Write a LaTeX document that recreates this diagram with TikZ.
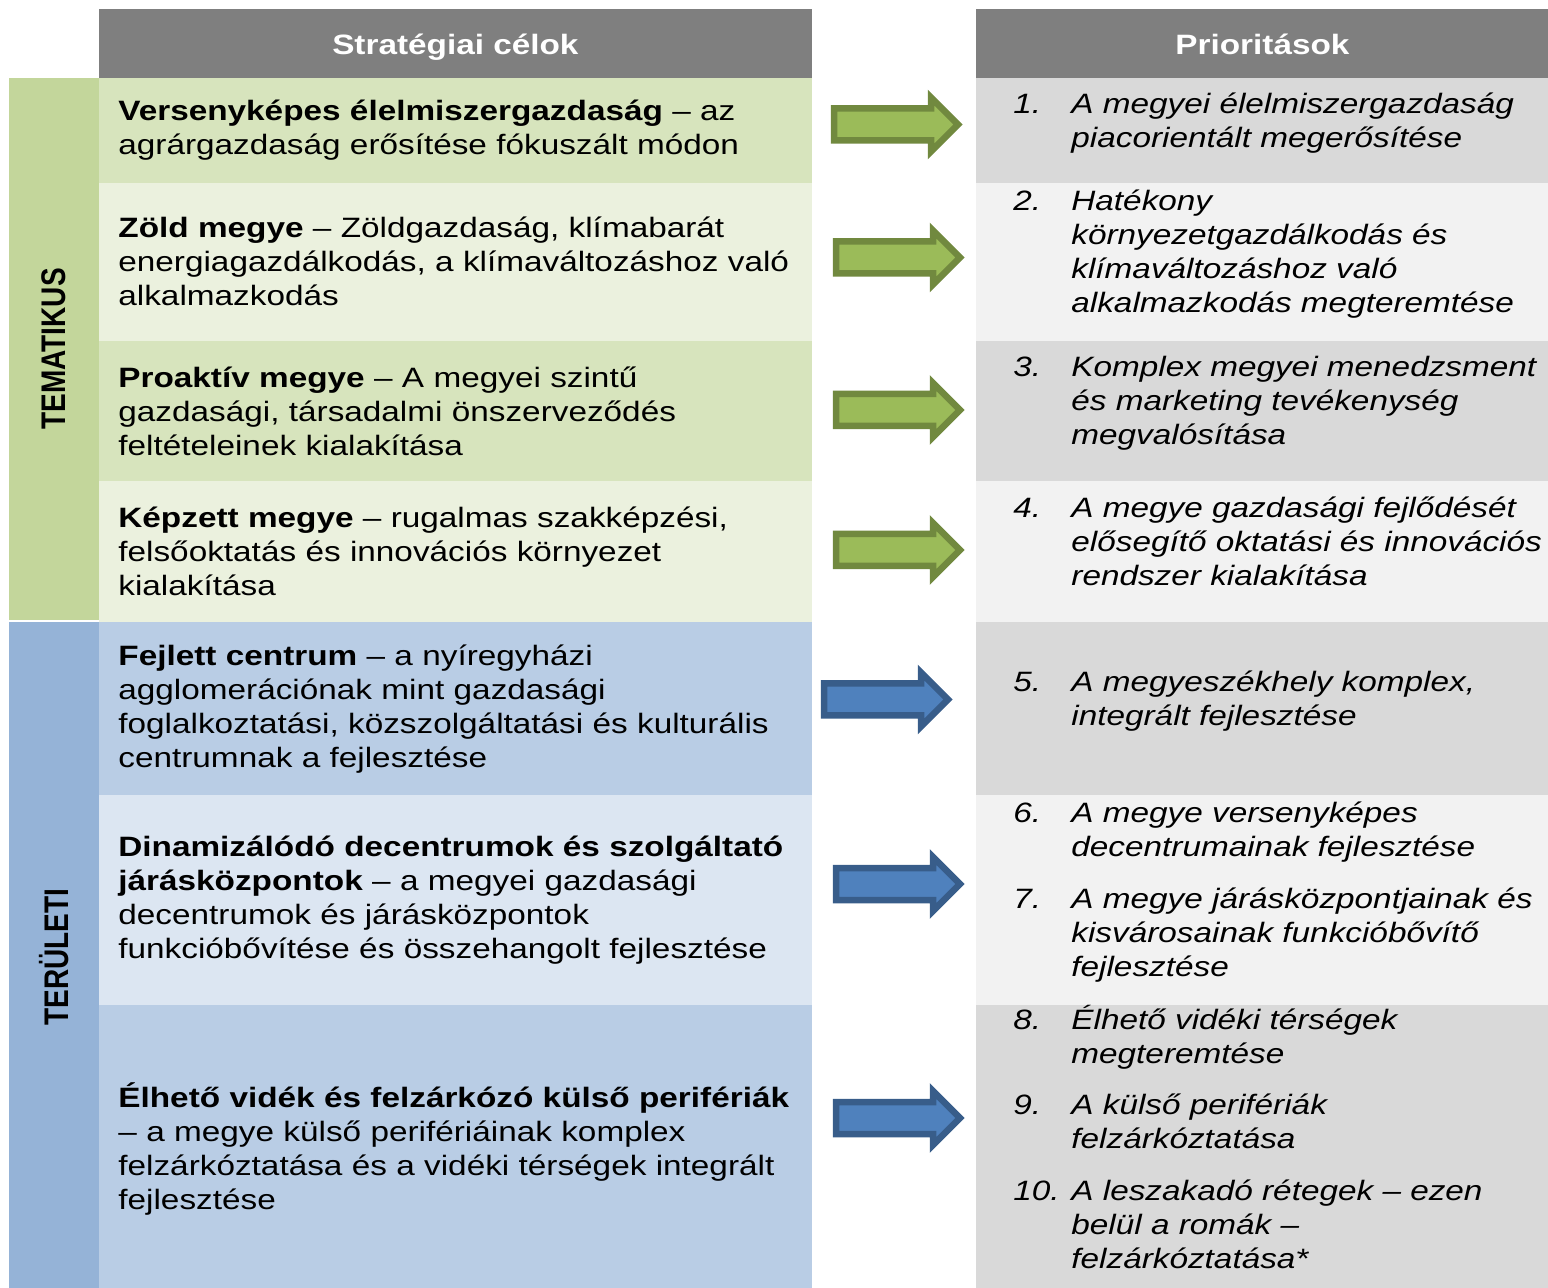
\documentclass[tikz,border=0pt]{standalone}
\usepackage{fontspec}
\setmainfont[FakeStretch=1.19]{Liberation Sans}
\newfontfamily\narrowsans{Liberation Sans}
\usepackage{graphicx}
\usetikzlibrary{positioning,shapes.arrows,calc}

\definecolor{headgray}{HTML}{7F7F7F}
\definecolor{tembar}{HTML}{C3D69B}
\definecolor{gdark}{HTML}{D7E4BD}
\definecolor{glight}{HTML}{EBF1DE}
\definecolor{terbar}{HTML}{95B3D7}
\definecolor{bdark}{HTML}{B9CDE5}
\definecolor{blight}{HTML}{DCE6F2}
\definecolor{pdark}{HTML}{D9D9D9}
\definecolor{plight}{HTML}{F2F2F2}
\definecolor{arrgreen}{HTML}{9BBB59}
\definecolor{arrgreenline}{HTML}{71893F}
\definecolor{arrblue}{HTML}{4F81BD}
\definecolor{arrblueline}{HTML}{385D8A}

\begin{document}
\begin{tikzpicture}[x=0.5pt, y=-0.5pt, node distance=0pt,
  every node/.style={font=\fontsize{14}{17}\selectfont}]
\tikzstyle{cell}=[fill=#1, draw=#1, line width=0.4pt]
\tikzstyle{head}=[cell=headgray, text=white, font=\fontsize{14}{17}\selectfont\bfseries, minimum height=34.5pt, text depth=0pt, inner sep=0pt, anchor=north west]
\tikzstyle{goal}=[minimum width=356pt, text width=337pt, inner xsep=9.5pt, inner ysep=0pt, align=left]
\tikzstyle{prbox}=[minimum width=286pt, inner sep=0pt]
\tikzstyle{prio}=[font=\fontsize{14}{17}\selectfont\itshape, inner sep=0pt, anchor=west]
\tikzstyle{bar}=[minimum width=44.5pt, inner sep=0pt, anchor=north east]
\tikzstyle{barlabel}=[rotate=90, font=\fontsize{14}{17}\selectfont\narrowsans\bfseries, inner sep=0pt]
\tikzstyle{arrowbase}=[single arrow, line width=3.25pt, minimum height=62pt, single arrow head extend=5.5pt, inner xsep=0pt, inner ysep=6.375pt]
\tikzstyle{garrow}=[arrowbase, fill=arrgreen, draw=arrgreenline]
\tikzstyle{barrow}=[arrowbase, fill=arrblue, draw=arrblueline]

\useasboundingbox (0,0) rectangle (1548,1288);

% headers
\node[head, minimum width=356pt] (hgoal) at (99,9) {Stratégiai célok};
\node[head, minimum width=286pt] (hprio) at (976,9) {Prioritások};

% strategic goals
\node[goal, cell=gdark, minimum height=52pt, anchor=north west] (g1) at (99,78)
  {\textbf{Versenyképes élelmiszergazdaság} – az\\ agrárgazdaság erősítése fókuszált módon};
\node[goal, cell=glight, minimum height=78.5pt, below=of g1] (g2)
  {\textbf{Zöld megye} – Zöldgazdaság, klímabarát\\ energiagazdálkodás, a klímaváltozáshoz való\\ alkalmazkodás};
\node[goal, cell=gdark, minimum height=70pt, below=of g2] (g3)
  {\textbf{Proaktív megye} – A megyei szintű\\ gazdasági, társadalmi önszerveződés\\ feltételeinek kialakítása};
\node[goal, cell=glight, minimum height=70pt, below=of g3] (g4)
  {\textbf{Képzett megye} – rugalmas szakképzési,\\ felsőoktatás és innovációs környezet\\ kialakítása};
\node[goal, cell=bdark, minimum height=86pt, below=of g4] (g5)
  {\textbf{Fejlett centrum} – a nyíregyházi\\ agglomerációnak mint gazdasági\\ foglalkoztatási, közszolgáltatási és kulturális\\ centrumnak a fejlesztése};
\node[goal, cell=blight, minimum height=104.5pt, below=of g5] (g6)
  {\textbf{Dinamizálódó decentrumok és szolgáltató}\\ \textbf{járásközpontok} – a megyei gazdasági\\ decentrumok és járásközpontok\\ funkcióbővítése és összehangolt fejlesztése};
\node[goal, cell=bdark, minimum height=144pt, below=of g6] (g7)
  {\textbf{Élhető vidék és felzárkózó külső perifériák}\\ – a megye külső perifériáinak komplex\\ felzárkóztatása és a vidéki térségek integrált\\ fejlesztése};

% side bars
\node[bar, cell=tembar, minimum height=270.5pt] (tem) at (g1.north west) {};
\node[bar, cell=terbar, minimum height=334.5pt] (ter) at (g5.north west) {};
\node[barlabel] (temlabel) at (tem.center) {\scalebox{1}[1.22]{TEMATIKUS}};
\node[barlabel] (terlabel) at (ter.center) {\scalebox{1}[1.22]{TERÜLETI}};

% priorities
\node[prbox, cell=pdark, minimum height=52pt, anchor=north west] (p1) at (976,78) {};
\node[prbox, cell=plight, minimum height=78.5pt, below=of p1] (p2) {};
\node[prbox, cell=pdark, minimum height=70pt, below=of p2] (p3) {};
\node[prbox, cell=plight, minimum height=70pt, below=of p3] (p4) {};
\node[prbox, cell=pdark, minimum height=86pt, below=of p4] (p5) {};
\node[prbox, cell=plight, minimum height=104.5pt, below=of p5] (p6) {};
\node[prbox, cell=pdark, minimum height=144pt, below=of p6] (p7) {};

\node[prio] (q1) at ($(p1.west)+(37,-7)$) {\begin{tabular}{@{}p{29pt}@{}l@{}}
  1. & A megyei élelmiszergazdaság\\ & piacorientált megerősítése\end{tabular}};
\node[prio] (q2) at ($(p2.west)+(37,-7)$) {\begin{tabular}{@{}p{29pt}@{}l@{}}
  2. & Hatékony\\ & környezetgazdálkodás és\\ & klímaváltozáshoz való\\ & alkalmazkodás megteremtése\end{tabular}};
\node[prio] (q3) at ($(p3.west)+(37,-7)$) {\begin{tabular}{@{}p{29pt}@{}l@{}}
  3. & Komplex megyei menedzsment\\ & és marketing tevékenység\\ & megvalósítása\end{tabular}};
\node[prio] (q4) at ($(p4.west)+(37,-7)$) {\begin{tabular}{@{}p{29pt}@{}l@{}}
  4. & A megye gazdasági fejlődését\\ & elősegítő oktatási és innovációs\\ & rendszer kialakítása\end{tabular}};
\node[prio] (q5) at ($(p5.west)+(37,-7)$) {\begin{tabular}{@{}p{29pt}@{}l@{}}
  5. & A megyeszékhely komplex,\\ & integrált fejlesztése\end{tabular}};
\node[prio] (q6) at ($(p6.west)+(37,-7)$) {\begin{tabular}{@{}p{29pt}@{}l@{}}
  6. & A megye versenyképes\\ & decentrumainak fejlesztése\\[9pt]
  7. & A megye járásközpontjainak és\\ & kisvárosainak funkcióbővítő\\ & fejlesztése\end{tabular}};
\node[prio] (q7) at ($(p7.west)+(37,-7)$) {\begin{tabular}{@{}p{29pt}@{}l@{}}
  8. & Élhető vidéki térségek\\ & megteremtése\\[8.5pt]
  9. & A külső perifériák\\ & felzárkóztatása\\[9pt]
  10. & A leszakadó rétegek – ezen\\ & belül a romák –\\ & felzárkóztatása*\end{tabular}};

% arrows
\node[garrow] (a1) at (888,124.5) {};
\node[garrow] (a2) at (890,257.5) {};
\node[garrow] (a3) at (890,410) {};
\node[garrow] (a4) at (890,550) {};
\node[barrow] (a5) at (878,699.5) {};
\node[barrow] (a6) at (890,884) {};
\node[barrow] (a7) at (890,1118) {};
\end{tikzpicture}
\end{document}
